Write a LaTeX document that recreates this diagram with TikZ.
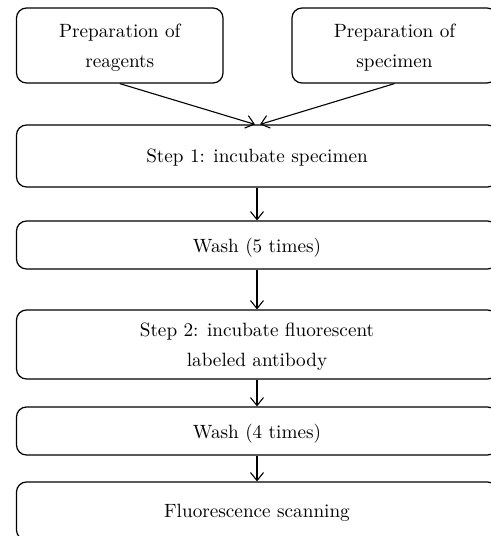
\documentclass[tikz,border=0pt]{standalone}
\usetikzlibrary{arrows.meta}

\begin{document}
\begin{tikzpicture}[x=0.5pt, y=-0.5pt,
        box/.style={draw, rounded corners=5pt, line width=0.6pt, align=center,
            font=\fontsize{9.6}{15}\selectfont, inner sep=0pt, text depth=0pt},
        flow/.style={-{Straight Barb[length=4pt, width=6.5pt]}, line width=0.55pt}]
        \useasboundingbox (0, 0) rectangle (491, 536);
        % the two preparations
        \node[box, minimum width=103.25pt, minimum height=37.5pt] (reag) at (119.75, 45.5) {Preparation of\\reagents};
        \node[box, minimum width=102.5pt, minimum height=37.5pt] (spec) at (394.5, 45.5) {Preparation of\\specimen};
        % the steps
        \node[box, minimum width=240.5pt, minimum height=31pt] (step1) at (257, 156) {Step 1: incubate specimen};
        \node[box, minimum width=240.5pt, minimum height=24pt] (wash5) at (257, 245) {Wash (5 times)};
        \node[box, minimum width=240.5pt, minimum height=34.5pt] (step2) at (257, 344.5) {Step 2: incubate fluorescent\\labeled antibody};
        \node[box, minimum width=240.5pt, minimum height=24pt] (wash4) at (257, 431) {Wash (4 times)};
        \node[box, minimum width=240.5pt, minimum height=29pt] (scan) at (257, 511) {Fluorescence scanning};
        % preparations into step 1
        \draw[flow] (reag.south) -- ([xshift=-1pt]step1.north);
        \draw[flow] (spec.south) -- ([xshift=1.5pt]step1.north);
        % down the steps
        \draw[flow] (step1) -- (wash5);
        \draw[flow] (wash5) -- (step2);
        \draw[flow] (step2) -- (wash4);
        \draw[flow] (wash4) -- (scan);
\end{tikzpicture}
\end{document}
